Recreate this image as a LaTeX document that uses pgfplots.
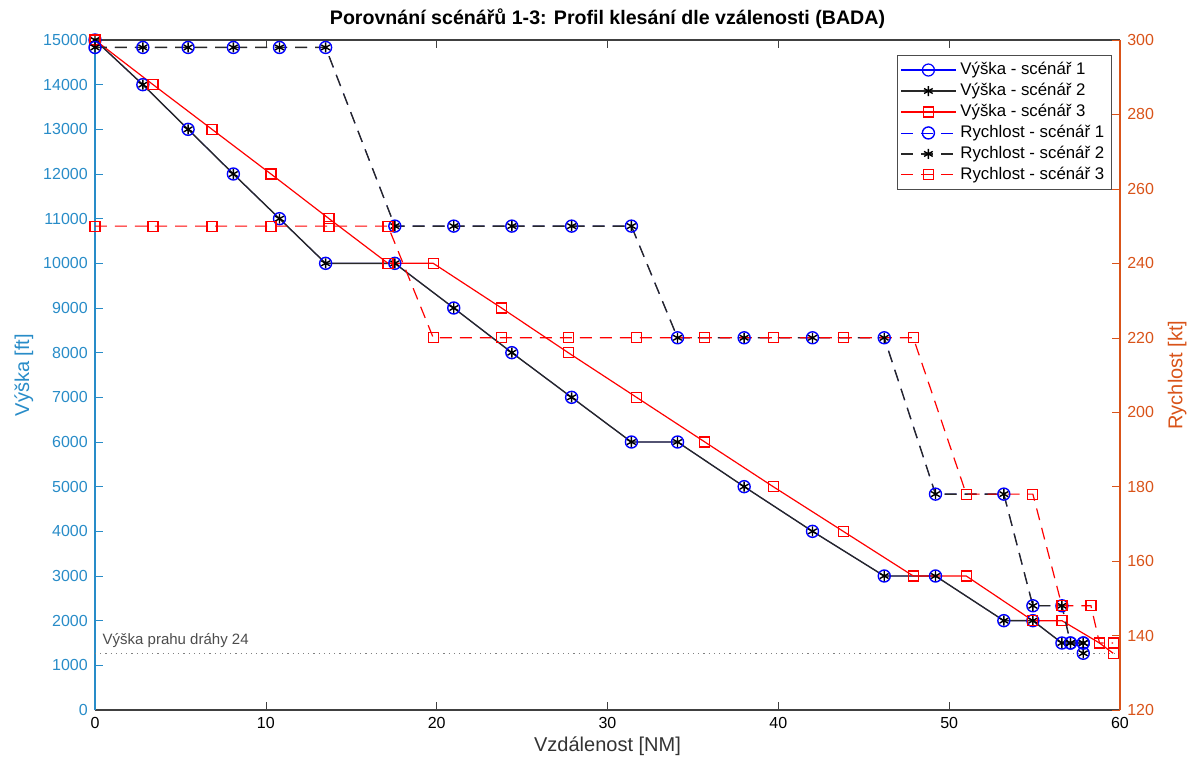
\documentclass[border=0pt]{standalone}
\usepackage{pgfplots}
\pgfplotsset{compat=1.18}
\usepackage{fontspec}
\setmainfont{Liberation Sans}
\definecolor{lblue}{RGB}{40,140,200}
\definecolor{morange}{RGB}{217,83,25}
\definecolor{dgray}{RGB}{40,40,40}
\begin{document}
\begin{tikzpicture}
\useasboundingbox (-47.5pt,-28.5pt) rectangle (546.5pt,355pt);
\pgfplotsset{
  every axis/.append style={
    scale only axis, width=512.5pt, height=335pt,
    at={(0,0)}, anchor=south west,
    xmin=0, xmax=60,
    font=\fontsize{8}{9}\selectfont,
    tick align=inside, major tick length=4pt,
    /pgf/number format/assume math mode=true,
    /pgf/number format/1000 sep={},
    scaled y ticks=false,
    line width=0.6pt,
  },
  legend image code/.code={\draw[mark repeat=2,mark phase=2] plot coordinates {(0cm,0cm)(0.48cm,0cm)(0.96cm,0cm)};},
}
\begin{axis}[
  axis y line*=left, axis x line*=box,
  ymin=0, ymax=15000, ytick={0,1000,...,15000},
  xtick={0,10,...,60},
  x axis line style={black!75}, x tick style={black!75},
  y axis line style={lblue}, y tick style={lblue},
  yticklabel style={lblue},
  ylabel={Výška [ft]}, ylabel style={lblue, font=\fontsize{10}{12}\selectfont, yshift=-2pt},
  xlabel={Vzdálenost [NM]}, xlabel style={black!80, font=\fontsize{10}{12}\selectfont, yshift=3pt},
  title={\bfseries Porovnání scénářů 1-3: Profil klesání dle vzálenosti (BADA)},
  title style={font=\fontsize{9.8}{11}\selectfont, yshift=-4pt},
]
\addplot[gray, dotted, line width=0.6pt, forget plot] coordinates {(0,1270)(60,1270)};
\node[anchor=south west, text=black!70, inner sep=1pt, font=\fontsize{7.5}{9}\selectfont] at (axis cs:0.3,1330) {Výška prahu dráhy 24};
% scenario 1 altitude
\addplot[blue, line width=0.4pt, mark=o, mark size=3pt, mark options={line width=0.7pt}] coordinates {
(0,15000)(2.8,14000)(5.45,13000)(8.1,12000)(10.8,11000)(13.5,10000)(17.55,10000)(21.0,9000)(24.4,8000)(27.9,7000)(31.4,6000)(34.1,6000)(38.0,5000)(42.0,4000)(46.2,3000)(49.2,3000)(53.2,2000)(54.9,2000)(56.6,1500)(57.1,1500)(57.85,1500)(57.85,1270)};
% scenario 2 altitude
\addplot[dgray, line width=0.7pt, mark=asterisk, mark size=2.5pt, mark options={black, line width=0.7pt}] coordinates {
(0,15000)(2.8,14000)(5.45,13000)(8.1,12000)(10.8,11000)(13.5,10000)(17.55,10000)(21.0,9000)(24.4,8000)(27.9,7000)(31.4,6000)(34.1,6000)(38.0,5000)(42.0,4000)(46.2,3000)(49.2,3000)(53.2,2000)(54.9,2000)(56.6,1500)(57.1,1500)(57.85,1500)(57.85,1270)};
% scenario 3 altitude
\addplot[red, mark=square, mark size=2.5pt] coordinates {
(0,15000)(3.4,14000)(6.85,13000)(10.3,12000)(13.7,11000)(17.15,10000)(19.8,10000)(23.8,9000)(27.7,8000)(31.7,7000)(35.7,6000)(39.7,5000)(43.8,4000)(47.9,3000)(51.0,3000)(54.9,2000)(56.6,2000)(58.8,1500)(59.6,1270)};
\end{axis}
\begin{axis}[
  axis y line*=right, axis x line=none,
  ymin=120, ymax=300, ytick={120,140,...,300},
  y axis line style={morange}, y tick style={morange},
  yticklabel style={morange},
  ylabel={Rychlost [kt]}, ylabel style={morange, font=\fontsize{10}{12}\selectfont},
  legend style={at={(rel axis cs:0.992,0.978)}, anchor=north east, draw=black!70, line width=0.6pt,
    font=\fontsize{8.4}{10}\selectfont, cells={anchor=west}, inner sep=1.5pt, row sep=-1.2pt},
]
\addlegendimage{blue, mark=o, mark size=3pt}
\addlegendentry{Výška - scénář 1}
\addlegendimage{dgray, line width=0.7pt, mark=asterisk, mark size=2.5pt, mark options={black}}
\addlegendentry{Výška - scénář 2}
\addlegendimage{red, mark=square, mark size=2.5pt}
\addlegendentry{Výška - scénář 3}
\addplot[blue, line width=0.4pt, dash pattern=on 6pt off 4pt, mark=o, mark size=3pt, mark options={solid, line width=0.7pt}] coordinates {
(0,298)(2.8,298)(5.45,298)(8.1,298)(10.8,298)(13.5,298)(17.55,250)(21.0,250)(24.4,250)(27.9,250)(31.4,250)(34.1,220)(38.0,220)(42.0,220)(46.2,220)(49.2,178)(53.2,178)(54.9,148)(56.6,148)(57.1,138)(57.85,138)};
\addlegendentry{Rychlost - scénář 1}
\addplot[dgray, line width=0.7pt, dash pattern=on 6pt off 4pt, mark=asterisk, mark size=2.5pt, mark options={solid, black, line width=0.7pt}] coordinates {
(0,298)(2.8,298)(5.45,298)(8.1,298)(10.8,298)(13.5,298)(17.55,250)(21.0,250)(24.4,250)(27.9,250)(31.4,250)(34.1,220)(38.0,220)(42.0,220)(46.2,220)(49.2,178)(53.2,178)(54.9,148)(56.6,148)(57.1,138)(57.85,138)};
\addlegendentry{Rychlost - scénář 2}
\addplot[red, dash pattern=on 6pt off 4pt, mark=square, mark size=2.5pt, mark options={solid}] coordinates {
(0,250)(3.4,250)(6.85,250)(10.3,250)(13.7,250)(17.15,250)(19.8,220)(23.8,220)(27.7,220)(31.7,220)(35.7,220)(39.7,220)(43.8,220)(47.9,220)(51.0,178)(54.9,178)(56.6,148)(58.3,148)(58.8,138)(59.6,138)};
\addlegendentry{Rychlost - scénář 3}
\end{axis}
\end{tikzpicture}
\end{document}
